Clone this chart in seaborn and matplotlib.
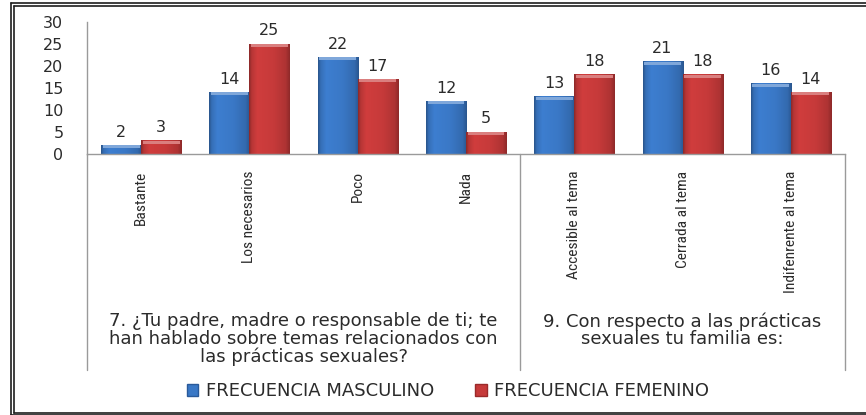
import numpy as np
import pandas as pd
import matplotlib
matplotlib.use("Agg")
import matplotlib.pyplot as plt
from matplotlib.patches import Rectangle, Patch
from matplotlib.lines import Line2D
from matplotlib import font_manager
import matplotlib.colors as mcolors
import seaborn as sns

# ---- data -------------------------------------------------------------
categories = ["Bastante", "Los necesarios", "Poco", "Nada",
              "Accesible al tema", "Cerrada al tema", "Indifenrente al tema"]
masculino = [2, 14, 22, 12, 13, 21, 16]
femenino = [3, 25, 17, 5, 18, 18, 14]
series = ["FRECUENCIA MASCULINO", "FRECUENCIA FEMENINO"]
group_labels = [
    "7. ¿Tu padre, madre o responsable de ti; te\n"
    "han hablado sobre temas relacionados con\n"
    "las prácticas sexuales?",
    "9. Con respecto a las prácticas\nsexuales tu familia es:",
]
group_sizes = [4, 3]
y_ticks = [0, 5, 10, 15, 20, 25, 30]

# ---- style ------------------------------------------------------------
W, H = 866, 415
BLUE = "#3A78C6"
RED = "#C63A3A"
TEXT = "#2b2b2b"
AXIS = "#9a9a9a"

sns.set_theme(style="white")
plt.rcParams["font.family"] = ["DejaVu Sans"]

# a narrow face for the rotated category names
installed = {f.name for f in font_manager.fontManager.ttflist}
narrow = next((n for n in ["Liberation Sans Narrow", "DejaVu Sans Condensed",
                           "Roboto Condensed", "Open Sans Condensed",
                           "Liberation Sans"] if n in installed), "DejaVu Sans")

df = pd.DataFrame({
    "categoria": categories * 2,
    "valor": masculino + femenino,
    "serie": [series[0]] * len(categories) + [series[1]] * len(categories),
})

fig = plt.figure(figsize=(W / 100, H / 100), dpi=100)
ax = fig.add_axes([87 / W, (H - 154) / H, (845 - 87) / W, (154 - 22) / H])

sns.barplot(data=df, x="categoria", y="valor", hue="serie",
            order=categories, hue_order=series, palette=[BLUE, RED],
            width=0.74, saturation=1, edgecolor="none", legend=False,
            errorbar=None, ax=ax)

ax.set_xlim(-0.5, len(categories) - 0.5)
ax.set_ylim(0, 30)
ax.set_yticks(y_ticks)
ax.set_xlabel("")
ax.set_ylabel("")

# ---- bevelled look for each bar --------------------------------------
prof_t = [0.0, 0.06, 0.2, 0.6, 0.9, 1.0]
prof_f = [0.70, 0.92, 1.05, 1.0, 0.88, 0.72]
tt = np.linspace(0, 1, 80)
shade = np.interp(tt, prof_t, prof_f)
unit_px = (154 - 22) / 30.0
for patch in list(ax.patches):
    h = patch.get_height()
    if h <= 0:
        continue
    x0 = patch.get_x()
    w = patch.get_width()
    base = np.array(mcolors.to_rgb(patch.get_facecolor()))
    grad = np.clip(base[None, None, :] * shade[None, :, None], 0, 1)
    ax.imshow(grad, extent=[x0, x0 + w, 0, h], aspect="auto",
              zorder=patch.get_zorder() + 0.1, interpolation="bilinear")
    cap = min(3.0 / unit_px, h * 0.5)
    light = np.clip(base + (1 - base) * 0.35, 0, 1)
    ax.add_patch(Rectangle((x0 + w * 0.04, h - cap), w * 0.92, cap,
                           facecolor=light, edgecolor="none",
                           zorder=patch.get_zorder() + 0.2))
ax.set_xlim(-0.5, len(categories) - 0.5)
ax.set_ylim(0, 30)
ax.set_aspect("auto")

for cont in ax.containers:
    ax.bar_label(cont, padding=4, fontsize=11.5, color=TEXT, zorder=5)

# ---- axes, ticks, dividers -------------------------------------------
for side in ["top", "right"]:
    ax.spines[side].set_visible(False)
for side in ["left", "bottom"]:
    ax.spines[side].set_color(AXIS)
    ax.spines[side].set_linewidth(1.0)
ax.tick_params(axis="y", length=0, pad=17, labelsize=11.5, labelcolor=TEXT)
ax.tick_params(axis="x", length=0, pad=12)
ax.set_xticks(range(len(categories)))
ax.set_xticklabels(categories, rotation=90, ha="center", va="top",
                   fontsize=11, color=TEXT, family=narrow)

# size the rotated names so the longest one spans about 122 px
renderer = fig.canvas.get_renderer()
longest = max(ax.get_xticklabels(),
              key=lambda t: t.get_window_extent(renderer).height)
span = longest.get_window_extent(renderer).height
fs = 11 * 122.0 / span
for t in ax.get_xticklabels():
    t.set_fontsize(fs)

div_bottom = -(370 - 154) / (154 - 22)
edges = np.concatenate([[0], np.cumsum(group_sizes)]) - 0.5
xtr = ax.get_xaxis_transform()
for e in edges:
    ax.plot([e, e], [0, div_bottom], color=AXIS, lw=1.0,
            transform=xtr, clip_on=False)

for lab, a, b in zip(group_labels, edges[:-1], edges[1:]):
    ax.text((a + b) / 2, -(312 - 154) / (154 - 22), lab, transform=xtr,
            ha="center", va="top", fontsize=13, color=TEXT,
            linespacing=0.98, multialignment="center")

# ---- legend ----------------------------------------------------------
handles = [Patch(facecolor=BLUE, edgecolor="#2a5a9a"),
           Patch(facecolor=RED, edgecolor="#9a2a2a")]
fig.legend(handles, series, loc="center",
           bbox_to_anchor=(448 / W, 1 - 391 / H), ncol=2, frameon=False,
           fontsize=13, handlelength=0.65, handleheight=0.65,
           handletextpad=0.4, columnspacing=2.3, labelcolor=TEXT)

# ---- double frame (left, top, bottom) --------------------------------
def fline(x, y, **kw):
    fig.add_artist(Line2D([v / W for v in x], [1 - v / H for v in y],
                          transform=fig.transFigure, color="#1e1e1e",
                          lw=1.2, **kw))

fline([10.5, 10.5], [3.5, 414.5])
fline([13.5, 13.5], [6.5, 412.5])
fline([10.5, W], [3.5, 3.5])
fline([13.5, W], [6.5, 6.5])
fline([10.5, W], [414.5, 414.5])
fline([13.5, W], [412.5, 412.5])

fig.savefig("out.png", dpi=100)
